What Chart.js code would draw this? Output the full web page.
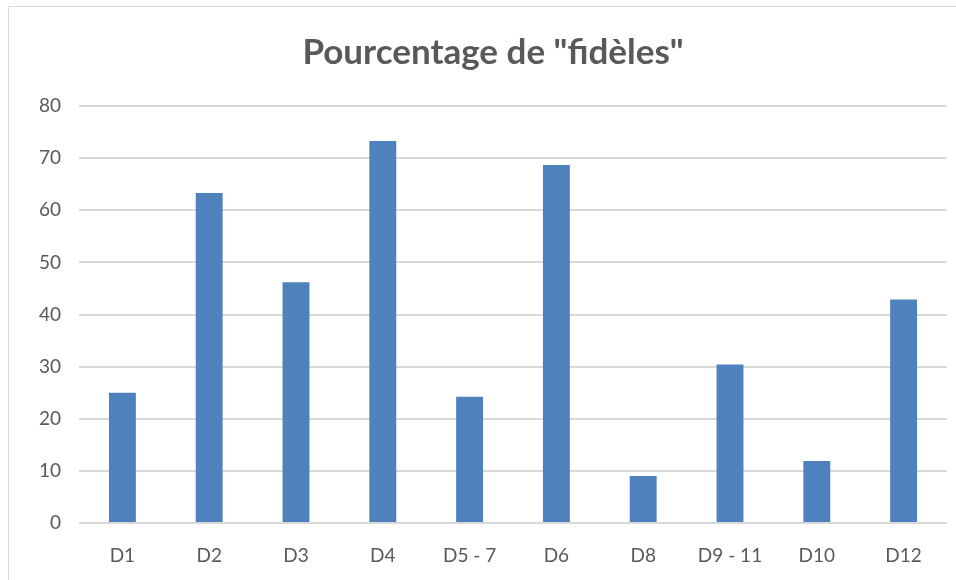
<html>
<head>
    <title>Pourcentage de "fidèles"</title>
    <script src="https://cdn.jsdelivr.net/npm/chart.js@4.4.1/dist/chart.umd.min.js"></script>
    <style>
        body { margin: 0; background: #fff; overflow: hidden; }
        .frame {
            position: absolute; left: 8px; top: 6px;
            width: 960px; height: 590px;
            border-top: 1px solid #d9d9d9; border-left: 1px solid #d9d9d9;
        }
        .frame canvas { display: block; }
    </style>
</head>
<body>
    <div class="frame">
        <div style="width:947px;height:573px;">
            <canvas id="myChart"></canvas>
        </div>
    </div>
    <script>
    var categories = ['D1', 'D2', 'D3', 'D4', 'D5 - 7', 'D6', 'D8', 'D9 - 11', 'D10', 'D12'];
    var fideles = [25.0, 63.3, 46.2, 73.3, 24.2, 68.7, 9.0, 30.4, 11.9, 42.9];
    var yTicks = [0, 10, 20, 30, 40, 50, 60, 70, 80];

    var ctx = document.getElementById('myChart');
    var chart = new Chart(ctx, {
        type: 'bar',
        data: {
            labels: categories,
            datasets: [{
                label: 'fidèles',
                data: fideles,
                backgroundColor: '#4f81bd',
                categoryPercentage: 1,
                barPercentage: 0.31
            }]
        },
        options: {
            responsive: true,
            maintainAspectRatio: false,
            animation: false,
            layout: { padding: { left: 30, right: 9, top: 0, bottom: 0 } },
            plugins: {
                legend: { display: false },
                tooltip: { enabled: false },
                title: {
                    display: true,
                    text: 'Pourcentage de "fidèles"',
                    color: '#595959',
                    font: { family: 'Lato', size: 35, weight: 'bold', lineHeight: 1.2 },
                    padding: { top: 25, bottom: 32 }
                }
            },
            scales: {
                x: {
                    grid: { display: false },
                    border: { display: false },
                    afterFit: function(scale) { scale.height = 57; },
                    ticks: {
                        color: '#595959',
                        font: { family: 'Lato', size: 19 },
                        padding: 13,
                        maxRotation: 0,
                        autoSkip: false
                    }
                },
                y: {
                    min: 0,
                    max: 80,
                    afterBuildTicks: function(scale) {
                        scale.ticks = yTicks.map(function(v) { return { value: v }; });
                    },
                    afterFit: function(scale) { scale.width = 40; },
                    grid: { color: '#d9d9d9', lineWidth: 2, drawTicks: false },
                    border: { display: false },
                    ticks: {
                        color: '#595959',
                        font: { family: 'Lato', size: 19 },
                        padding: 18
                    }
                }
            }
        }
    });
    </script>
</body>
</html>
